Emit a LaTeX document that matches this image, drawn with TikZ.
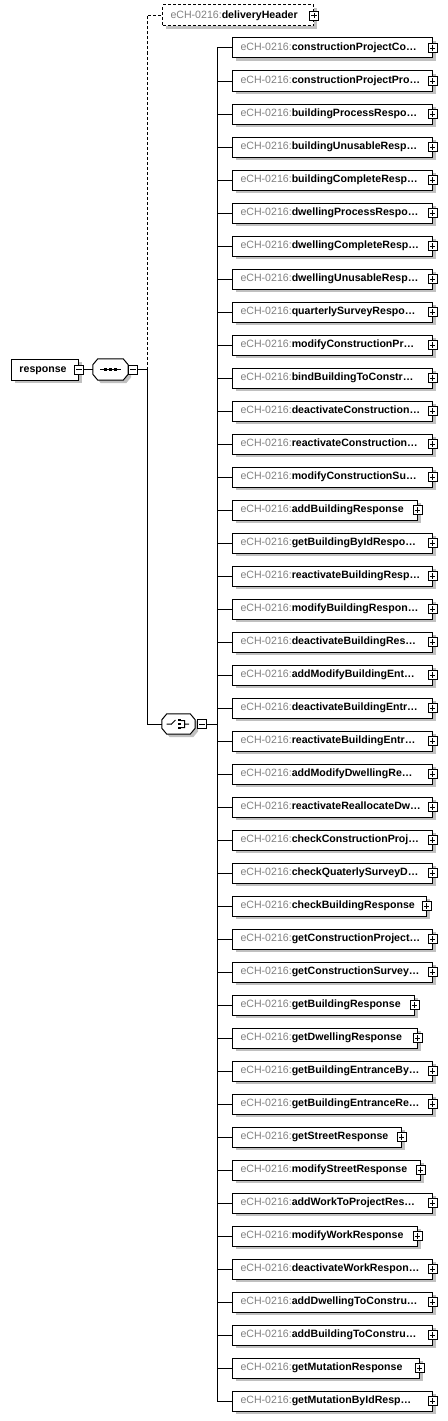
\documentclass[tikz,border=0pt]{standalone}
\usepackage{fontspec}
\setmainfont{Liberation Sans}
\usepackage{xcolor}
\usepackage{tikz}
\usetikzlibrary{
  positioning,
  shadows
}
\definecolor{nsgray}{RGB}{128, 128, 128}
\definecolor{shadegray}{RGB}{192, 192, 192}
\newcommand{\nsprefix}{\textcolor{nsgray}{eCH-0216:}}
% outline of a compositor (sequence / choice)
\newcommand{\compoutline}[1]{%
  \draw[comp] ([xshift=5pt]#1.north west) -- ([xshift=-5pt]#1.north east)
    -- ([yshift=-6pt]#1.north east) -- ([yshift=6pt]#1.south east)
    -- ([xshift=-5pt]#1.south east) -- ([xshift=5pt]#1.south west)
    -- ([yshift=6pt]#1.south west) -- ([yshift=-6pt]#1.north west) -- cycle;}

\begin{document}
\begin{tikzpicture}[
  x=1pt, y=-1pt,
  font=\fontsize{10.6pt}{13pt}\selectfont,
  elem/.style={
    draw, fill=white, line width=1pt, anchor=west,
    inner xsep=8pt, inner ysep=0pt, minimum height=20pt,
    text height=8pt, text depth=2.5pt,
    drop shadow={shadow xshift=3pt, shadow yshift=-3pt, fill=shadegray, opacity=1}
  },
  optelem/.style={elem, dash pattern=on 3pt off 2pt},
  comp/.style={
    fill=white, line width=1pt,
    drop shadow={shadow xshift=3pt, shadow yshift=-3pt, fill=shadegray, opacity=1}
  },
  compbox/.style={minimum width=35pt, minimum height=21pt, inner sep=0pt},
  plusbox/.style={
    draw, fill=white, line width=0.8pt, minimum size=9pt, inner sep=0pt,
    path picture={\draw[line width=0.8pt]
      ([xshift=1.8pt]path picture bounding box.west) -- ([xshift=-1.8pt]path picture bounding box.east)
      ([yshift=-1.8pt]path picture bounding box.north) -- ([yshift=1.8pt]path picture bounding box.south);}
  },
  minusbox/.style={
    draw, fill=white, line width=0.8pt, minimum size=9pt, inner sep=0pt,
    path picture={\draw[line width=0.8pt]
      ([xshift=1.8pt]path picture bounding box.west) -- ([xshift=-1.8pt]path picture bounding box.east);}
  },
  conn/.style={line width=1pt},
  optconn/.style={conn, dash pattern=on 3pt off 2pt}
]
\useasboundingbox (0,0) rectangle (447,1421);

% root element and sequence
\node[elem, minimum height=21pt] (resp) at (11,369.5) {\makebox[51pt][l]{\textbf{response}}};
\node[minusbox] (resp-m) at (resp.east) {};
\node[compbox] (seq) at (110.5,369.5) {};
\compoutline{seq}
\draw[line width=1pt] ([xshift=-10.5pt]seq.center) -- ([xshift=10.5pt]seq.center);
\foreach \dx in {-5,0,5}
  \fill ([shift={(\dx-1.5,-1.5)}]seq.center) rectangle +(3,3);
\node[minusbox, anchor=west] (seq-m) at (seq.east) {};
\coordinate (seqj) at (147,369.5);

% optional header
\node[optelem, minimum height=21pt] (hdr) at (162,15.5) {\makebox[135pt][l]{\nsprefix\textbf{deliveryHeader}}};
\node[plusbox] (hdr-p) at (hdr.east) {};

% choice
\node[compbox, minimum width=33pt, minimum height=20pt] (choice) at (178.5,724) {};
\compoutline{choice}
\draw[line width=1pt] ([shift={(-12,0)}]choice.center) -- ([shift={(-7.5,0)}]choice.center)
  ([shift={(-7.5,0.5)}]choice.center) -- ([shift={(-3,-4)}]choice.center)
  ([shift={(2.5,-3.5)}]choice.center) -- ([shift={(6,-3.5)}]choice.center)
  -- ([shift={(6,3.5)}]choice.center) -- ([shift={(2.5,3.5)}]choice.center)
  ([shift={(6,0)}]choice.center) -- ([shift={(10.5,0)}]choice.center);
\foreach \dy in {-4,0,4}
  \fill ([shift={(-0.5,\dy-1.3)}]choice.center) rectangle +(2.6,2.6);
\node[minusbox, anchor=west] (choice-m) at ([xshift=2pt]choice.east) {};
\coordinate (chj) at (217,724);

% children of the choice
\foreach \nm/\w [count=\i, evaluate=\i as \yy using 15+33*\i, evaluate=\w as \tw using \w-16] in {
  constructionProjectCo\ldots/200, constructionProjectPro\ldots/200,
  buildingProcessRespo\ldots/200, buildingUnusableResp\ldots/200,
  buildingCompleteResp\ldots/200, dwellingProcessRespo\ldots/200,
  dwellingCompleteResp\ldots/200, dwellingUnusableResp\ldots/200,
  quarterlySurveyRespo\ldots/200, modifyConstructionPr\ldots/200,
  bindBuildingToConstr\ldots/200, deactivateConstruction\ldots/200,
  reactivateConstruction\ldots/200, modifyConstructionSu\ldots/200,
  addBuildingResponse/185, getBuildingByIdRespo\ldots/200,
  reactivateBuildingResp\ldots/200, modifyBuildingRespon\ldots/200,
  deactivateBuildingRes\ldots/200, addModifyBuildingEnt\ldots/200,
  deactivateBuildingEntr\ldots/200, reactivateBuildingEntr\ldots/200,
  addModifyDwellingRe\ldots/200, reactivateReallocateDw\ldots/200,
  checkConstructionProj\ldots/200, checkQuaterlySurveyD\ldots/200,
  checkBuildingResponse/194, getConstructionProject\ldots/200,
  getConstructionSurvey\ldots/200, getBuildingResponse/182,
  getDwellingResponse/185, getBuildingEntranceBy\ldots/200,
  getBuildingEntranceRe\ldots/200, getStreetResponse/169,
  modifyStreetResponse/188, addWorkToProjectRes\ldots/200,
  modifyWorkResponse/185, deactivateWorkRespon\ldots/200,
  addDwellingToConstru\ldots/200, addBuildingToConstru\ldots/200,
  getMutationResponse/187, getMutationByIdResp\ldots/200} {
  \node[elem] (c\i) at (232,\yy) {\makebox[\tw pt][l]{\nsprefix\textbf{\nm}}};
  \node[plusbox] (p\i) at ([xshift=-0.5pt]c\i.east) {};
  \draw[conn] (chj) |- (c\i.west);
}

% connectors
\draw[conn] (resp-m.east) -- (seq.west);
\draw[conn] (seq-m.east) -- (seqj);
\draw[optconn] (seqj) |- (hdr.west);
\draw[conn] (seqj) |- (choice.west);
\draw[conn] (choice-m.east) -- (chj);
\end{tikzpicture}
\end{document}
